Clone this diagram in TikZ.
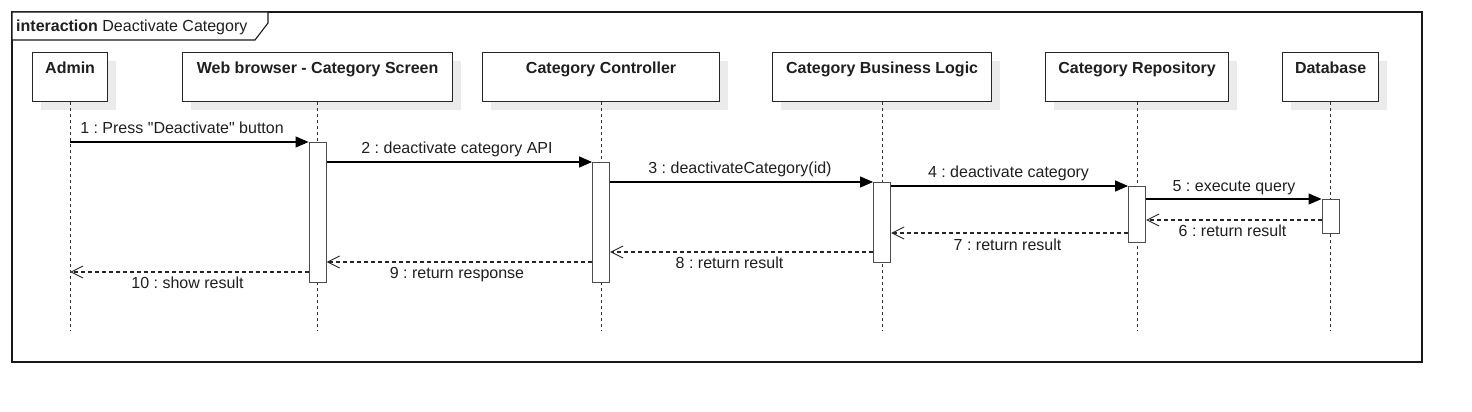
\documentclass[tikz,border=0pt]{standalone}
\usepackage{fontspec}
\setmainfont{Liberation Sans}[Ligatures=TeXOff]
\usetikzlibrary{arrows.meta,shadows}
\frenchspacing
\begin{document}
\begin{tikzpicture}[x=1pt,y=-1pt,
  font=\fontsize{16}{19}\selectfont,
  txt/.style={text=black!88},
  head/.style={draw=black!85, line width=1.2pt, fill=white, minimum height=49pt,
    inner sep=0pt, text height=21pt, text depth=28pt, anchor=north west,
    font=\fontsize{16}{19}\selectfont\bfseries, text=black!88,
    drop shadow={shadow xshift=8pt, shadow yshift=-8pt, fill=black!8, opacity=1}},
  bar/.style={draw=black!70, line width=1.1pt, fill=white, minimum width=17pt,
    inner sep=0pt, anchor=north},
  life/.style={draw=black!80, line width=1.2pt, dash pattern=on 3pt off 3pt},
  call/.style={draw=black, line width=1.1pt, -{Triangle[length=13pt,width=11pt]}},
  ret/.style={draw=black!85, line width=1.1pt, dash pattern=on 4pt off 3pt,
    -{Straight Barb[length=12pt,width=12pt,line width=0.9pt]}},
  lbl/.style={txt, anchor=base, inner sep=0pt}
]
\useasboundingbox (0,0) rectangle (1472,412);
% frame
\draw[line width=1.3pt, black!90] (12,12) rectangle (1422,362);
\draw[line width=1.1pt, black!90, fill=white] (12,12) -- (268,12) -- (268,23) -- (255,40) -- (12,40) -- cycle;
\node[txt, anchor=base west, inner sep=0pt] (title) at (16,32) {\textbf{interaction} Deactivate Category};

% heads
\node[head, minimum width=75pt]  (adm) at (32,52)   {Admin};
\node[head, minimum width=270pt] (web) at (182,52)  {Web browser - Category Screen};
\node[head, minimum width=237pt] (ctl) at (482,52)  {Category Controller};
\node[head, minimum width=219pt] (bl)  at (772,52)  {Category Business Logic};
\node[head, minimum width=183pt] (rep) at (1045,52) {Category Repository};
\node[head, minimum width=96pt]  (db)  at (1282,52) {Database};

% lifelines
\foreach \n in {adm,web,ctl,bl,rep,db}{
  \draw[life] (\n.south) -- (\n.south |- 0,331);
}

% activation bars
\node[bar, minimum height=140pt] (wbar) at (web.south |- 0,142) {};
\node[bar, minimum height=120pt] (cbar) at (ctl.south |- 0,162) {};
\node[bar, minimum height=80pt]  (lbar) at (bl.south |- 0,182) {};
\node[bar, minimum height=56pt]  (rbar) at (rep.south |- 0,186) {};
\node[bar, minimum height=34pt]  (dbar) at (db.south |- 0,199) {};

% messages
\draw[call] (adm.south |- wbar.north) -- (wbar.north west);
\draw[call] (wbar.east |- cbar.north) -- (cbar.north west);
\draw[call] (cbar.east |- lbar.north) -- (lbar.north west);
\draw[call] (lbar.east |- rbar.north) -- (rbar.north west);
\draw[call] (rbar.east |- dbar.north) -- (dbar.north west);
\draw[ret] (dbar.west |- 0,220) -- (rbar.east |- 0,220);
\draw[ret] (rbar.west |- 0,233) -- (lbar.east |- 0,233);
\draw[ret] (lbar.west |- 0,252) -- (cbar.east |- 0,252);
\draw[ret] (cbar.west |- 0,262) -- (wbar.east |- 0,262);
\draw[ret] (wbar.west |- 0,272) -- (adm.south |- 0,272);

% labels
\node[lbl] (l1)  at (182,133.5)  {1 : Press "Deactivate" button};
\node[lbl] (l2)  at (457,153.5)  {2 : deactivate category API};
\node[lbl] (l3)  at (740,173.5)  {3 : deactivateCategory(id)};
\node[lbl] (l4)  at (1008.5,177.5) {4 : deactivate category};
\node[lbl] (l5)  at (1234,191)   {5 : execute query};
\node[lbl] (l6)  at (1232.5,236.5) {6 : return result};
\node[lbl] (l7)  at (1007.5,250) {7 : return result};
\node[lbl] (l8)  at (729.5,268.5) {8 : return result};
\node[lbl] (l9)  at (457,278.5)  {9 : return response};
\node[lbl] (l10) at (187.5,288.5) {10 : show result};
\end{tikzpicture}
\end{document}
